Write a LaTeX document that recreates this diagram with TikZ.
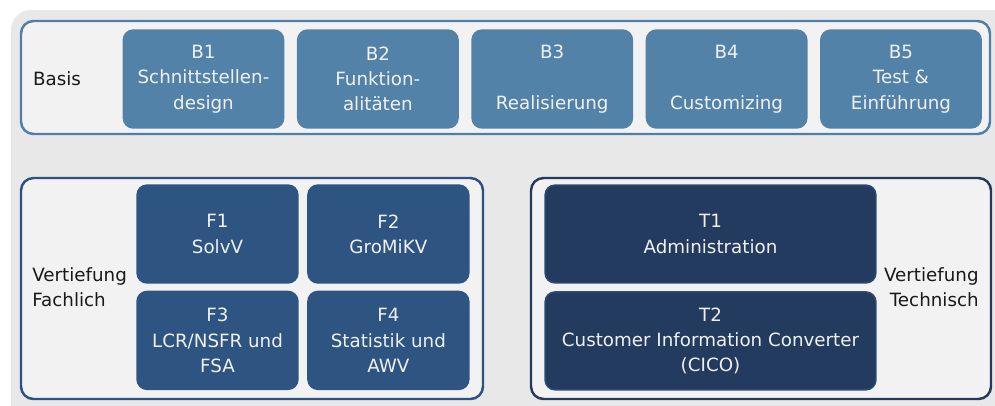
\documentclass[tikz,border=0pt]{standalone}
\usepackage{fontspec}
\setmainfont{DejaVu Sans}
\usepackage{tikz}
\usetikzlibrary{positioning}
\definecolor{bggray}{HTML}{E8E8E8}
\definecolor{framefill}{HTML}{F2F2F2}
\definecolor{basisblue}{HTML}{5282A8}
\definecolor{basisline}{HTML}{4E7EAA}
\definecolor{fachblue}{HTML}{2E5481}
\definecolor{fachline}{HTML}{2D5185}
\definecolor{techblue}{HTML}{233B5E}
\definecolor{techline}{HTML}{2E4C76}
\definecolor{techframe}{HTML}{223A5C}
\tikzset{
  modbox/.style args={#1,#2}{
  rounded corners=2mm,
  fill=#1,
  draw=#2,
  line width=0.8pt,
  text=white!94!black,
  align=center,
  inner sep=0pt,
  minimum height=1.96cm,
  font=\fontsize{10.4}{14.4}\selectfont
  },
  bmod/.style={modbox={basisblue,basisblue},minimum width=3.21cm},
  fmod/.style={modbox={fachblue,fachblue},minimum width=3.22cm},
  tmod/.style={modbox={techblue,techline},minimum width=6.62cm},
  frame/.style={rounded corners=2.5mm,fill=framefill,line width=1.4pt,draw=#1},
  blocklabel/.style={inner sep=0pt,text=black!90,font=\fontsize{10.4}{14.4}\selectfont}
}

\begin{document}
\begin{tikzpicture}[x=0.02cm,y=-0.02cm]

  \useasboundingbox (0,0) rectangle (995,406);
  \clip (0,0) rectangle (995,406);
  \fill [bggray,rounded corners=4mm] (11,10) rectangle (1030,440);

  % Basis
  \draw [frame=basisline] (21,21) rectangle (990,134);
  \node [blocklabel] (basis) at (57,79) {Basis};
  \node [bmod] (b1) at (203.5,79) {B1\\Schnittstellen-\\design};
  \node [bmod,right=0.25cm of b1] (b2) {B2\\Funktion-\\alitäten};
  \node [bmod,right=0.25cm of b2] (b3) {B3\\[14.4pt]Realisierung};
  \node [bmod,right=0.25cm of b3] (b4) {B4\\[14.4pt]Customizing};
  \node [bmod,right=0.25cm of b4] (b5) {B5\\Test \&\\Einführung};

  % Vertiefung Fachlich
  \draw [frame=fachline] (21,178) rectangle (483,399);
  \node [blocklabel,anchor=west,align=left] (fach) at (32,287) {Vertiefung\\Fachlich};
  \node [fmod] (f1) at (217.5,234) {F1\\SolvV};
  \node [fmod,right=0.17cm of f1] (f2) {F2\\GroMiKV};
  \node [fmod,below=0.14cm of f1] (f3) {F3\\LCR/NSFR und\\FSA};
  \node [fmod,below=0.14cm of f2] (f4) {F4\\Statistik und\\AWV};

  % Vertiefung Technisch
  \draw [frame=techframe] (531,178) rectangle (991,399);
  \node [blocklabel,anchor=east,align=right] (tech) at (979,287) {Vertiefung\\Technisch};
  \node [tmod] (t1) at (710.5,234) {T1\\Administration};
  \node [tmod,below=0.15cm of t1] (t2) {T2\\Customer Information Converter\\(CICO)};
\end{tikzpicture}
\end{document}
